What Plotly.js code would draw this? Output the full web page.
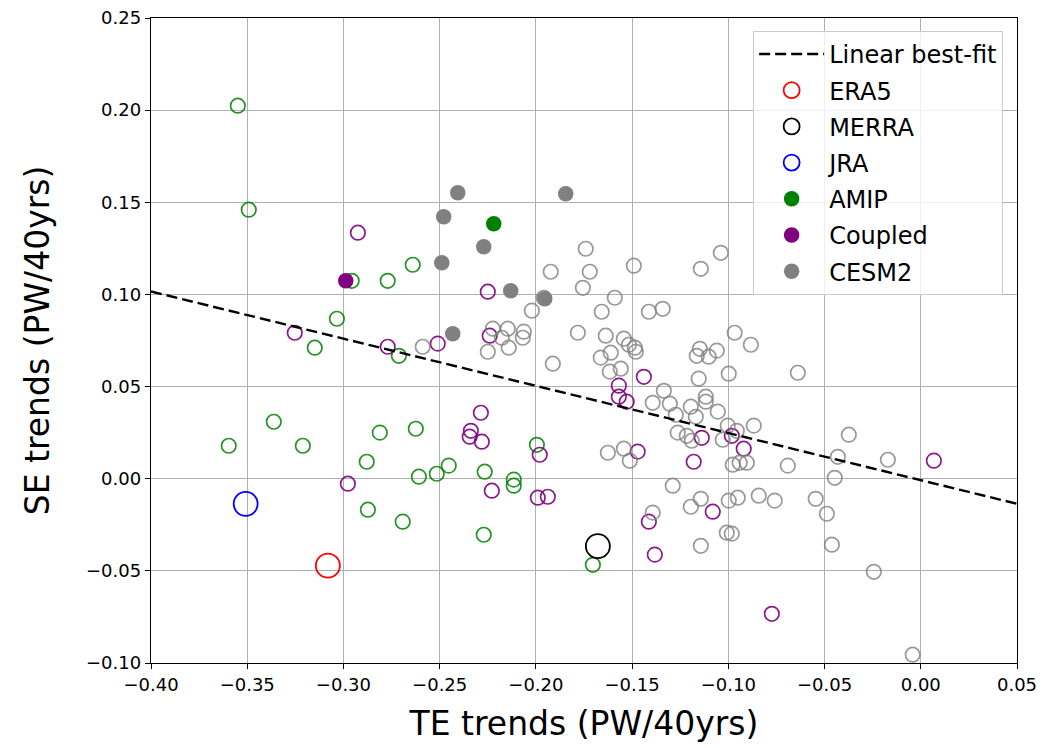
<!DOCTYPE html>
<html>
<head>
<meta charset="utf-8">
<script src="https://cdn.plot.ly/plotly-3.0.1.min.js"></script>
<style>
  html, body { margin: 0; padding: 0; background: #fff; }
  #chart { width: 1045px; height: 748px; }
</style>
</head>
<body>
<div id="chart"></div>
<script>
// Transient-eddy (TE) vs stationary-eddy (SE) energy transport trends, PW per 40 years

// Reanalyses
const era5TE = [-0.3081];   const era5SE = [-0.0472];
const merraTE = [-0.1678];  const merraSE = [-0.0366];
const jraTE = [-0.3508];    const jraSE = [-0.0136];

// AMIP members
const amipTE = [-0.3549, -0.3492, -0.2957, -0.2770, -0.2640, -0.3034, -0.3149, -0.2712,
  -0.3596, -0.3362, -0.3211, -0.2811, -0.2879, -0.2873, -0.2692, -0.2624, -0.2608,
  -0.2515, -0.2453, -0.2266, -0.2271, -0.2115, -0.2115, -0.1995, -0.1704];
const amipSE = [0.2024, 0.1460, 0.1074, 0.1074, 0.1161, 0.0868, 0.0711, 0.0667,
  0.0179, 0.0309, 0.0179, 0.0250, 0.0092, -0.0168, -0.0233, 0.0271, 0.0011,
  0.0027, 0.0071, 0.0038, -0.0304, -0.0005, -0.0038, 0.0184, -0.0467];
const amipMeanTE = [-0.2219];
const amipMeanSE = [0.1384];

// Coupled members
const coupledTE = [-0.2925, -0.3253, -0.2770, -0.2510, -0.2977, -0.2250, -0.2240, -0.2286,
  -0.2338, -0.2344, -0.2281, -0.1980, -0.2229, -0.1990, -0.1938, -0.1439, -0.1569,
  -0.1569, -0.1528, -0.1471, -0.1138, -0.1180, -0.1413, -0.1382, -0.1081, -0.0920,
  -0.0774, 0.0068, -0.0982];
const coupledSE = [0.1335, 0.0792, 0.0716, 0.0733, -0.0027, 0.1015, 0.0776, 0.0358,
  0.0260, 0.0228, 0.0201, 0.0130, -0.0065, -0.0103, -0.0098, 0.0553, 0.0505,
  0.0445, 0.0418, 0.0147, 0.0222, 0.0092, -0.0233, -0.0412, -0.0179, 0.0163,
  -0.0733, 0.0098, 0.0233];
const coupledMeanTE = [-0.2988];
const coupledMeanSE = [0.1074];

// CESM2 members
const cesmTE = [-0.1741, -0.1923, -0.1720, -0.1491, -0.1756, -0.1590, -0.1959, -0.2021,
  -0.1658, -0.1413, -0.1341, -0.1143, -0.1039, -0.1782, -0.1637, -0.1543, -0.1517,
  -0.1486, -0.1481, -0.1611, -0.1663, -0.1912, -0.1616, -0.1559, -0.2224, -0.2146,
  -0.2063, -0.2068, -0.2177, -0.2141, -0.2250, -0.2588, -0.1335, -0.1393, -0.1304,
  -0.1195, -0.1117, -0.1117, -0.1154, -0.0998, -0.1055, -0.1273, -0.1169, -0.1148,
  -0.1102, -0.1060, -0.1164, -0.0967, -0.0883, -0.0639, -0.1263, -0.1216, -0.1190,
  -0.1003, -0.0956, -0.1029, -0.0868, -0.0977, -0.0941, -0.0904, -0.0691, -0.1626,
  -0.1543, -0.1512, -0.1289, -0.1195, -0.1143, -0.1393, -0.1143, -0.1008, -0.0982,
  -0.0998, -0.0951, -0.0842, -0.0759, -0.0374, -0.0171, -0.0431, -0.0447, -0.0546,
  -0.0488, -0.0462, -0.0244, -0.0042];
const cesmSE = [0.1248, 0.1123, 0.1123, 0.1156, 0.1036, 0.0982, 0.0982, 0.0912,
  0.0906, 0.0906, 0.0922, 0.1139, 0.1226, 0.0792, 0.0776, 0.0760, 0.0727,
  0.0711, 0.0689, 0.0684, 0.0657, 0.0624, 0.0581, 0.0597, 0.0814, 0.0814,
  0.0798, 0.0765, 0.0765, 0.0711, 0.0689, 0.0716, 0.0477, 0.0412, 0.0407,
  0.0391, 0.0445, 0.0418, 0.0543, 0.0570, 0.0364, 0.0347, 0.0336, 0.0705,
  0.0662, 0.0695, 0.0667, 0.0792, 0.0727, 0.0575, 0.0250, 0.0233, 0.0206,
  0.0288, 0.0260, 0.0212, 0.0288, 0.0076, 0.0087, 0.0087, 0.0071, 0.0141,
  0.0163, 0.0098, -0.0038, -0.0152, -0.0109, -0.0184, -0.0364, -0.0293, -0.0298,
  -0.0119, -0.0103, -0.0092, -0.0119, 0.0239, 0.0103, 0.0119, 0.0005, -0.0109,
  -0.0190, -0.0358, -0.0505, -0.0955];
const cesmMeanTE = [-0.2406, -0.1845, -0.2479, -0.2271, -0.2489, -0.2131, -0.1954, -0.2432];
const cesmMeanSE = [0.1552, 0.1546, 0.1422, 0.1259, 0.1172, 0.1020, 0.0977, 0.0787];

// Linear best-fit through the ensemble
const fitSlope = -0.256;
const fitIntercept = -0.0008;
const fitTE = [-0.40, 0.05];

const AMIP_C = '#008000', COUPLED_C = '#800080', CESM_C = '#808080';

function openTrace(x, y, color, size, lw, opts) {
  return Object.assign({
    type: 'scatter', mode: 'markers', x: x, y: y, showlegend: false, hoverinfo: 'skip',
    marker: { symbol: 'circle-open', size: size, color: color, line: { width: lw, color: color } }
  }, opts || {});
}
function filledTrace(x, y, color, name, rank) {
  return {
    type: 'scatter', mode: 'markers', x: x, y: y, name: name, legendrank: rank,
    legendgroup: name,
    marker: { symbol: 'circle', size: 15.5, color: color, line: { width: 0 } }
  };
}

const traces = [
  openTrace(amipTE, amipSE, 'rgba(0,128,0,0.85)', 14.5, 1.7),
  openTrace(coupledTE, coupledSE, 'rgba(128,0,128,0.9)', 14.5, 1.7),
  openTrace(cesmTE, cesmSE, 'rgba(128,128,128,0.8)', 14.5, 1.7),
  filledTrace(amipMeanTE, amipMeanSE, AMIP_C, 'AMIP', 5),
  filledTrace(coupledMeanTE, coupledMeanSE, COUPLED_C, 'Coupled', 6),
  filledTrace(cesmMeanTE, cesmMeanSE, CESM_C, 'CESM2', 7),
  {
    type: 'scatter', mode: 'lines', name: 'Linear best-fit', legendrank: 1, legendgroup: 'fit',
    x: fitTE, y: fitTE.map(v => fitSlope * v + fitIntercept),
    line: { color: '#000', width: 2.4, dash: '11px,5px' }, hoverinfo: 'skip'
  },
  openTrace(era5TE, era5SE, '#ff0000', 24, 1.8, { name: 'ERA5', showlegend: true, legendrank: 2, legendgroup: 'ERA5' }),
  openTrace(merraTE, merraSE, '#000000', 24, 1.8, { name: 'MERRA', showlegend: true, legendrank: 3, legendgroup: 'MERRA' }),
  openTrace(jraTE, jraSE, '#0000ff', 24, 1.8, { name: 'JRA', showlegend: true, legendrank: 4, legendgroup: 'JRA' })
];

const axisCommon = {
  showline: true, mirror: true, linecolor: '#000', linewidth: 1.2,
  ticks: 'outside', ticklen: 5, tickwidth: 1, tickcolor: '#000',
  showgrid: true, gridcolor: '#b0b0b0', gridwidth: 1,
  zeroline: false, tickformat: '.2f',
  tickfont: { family: 'DejaVu Sans', size: 18, color: '#000' }
};

const titleFont = { family: 'DejaVu Sans', size: 33, color: '#000' };

const layout = {
  width: 1045, height: 748,
  margin: { l: 151, r: 28, t: 18, b: 85 },
  paper_bgcolor: '#fff', plot_bgcolor: '#fff',
  font: { family: 'DejaVu Sans', color: '#000' },
  xaxis: Object.assign({}, axisCommon, {
    range: [-0.40, 0.05], dtick: 0.05, tick0: 0,
    title: { text: 'TE trends (PW/40yrs)', font: titleFont, standoff: 18 }
  }),
  yaxis: Object.assign({}, axisCommon, {
    range: [-0.10, 0.25], dtick: 0.05, tick0: 0,
    title: { text: 'SE trends (PW/40yrs)', font: titleFont, standoff: 26 }
  }),
  showlegend: true,
  legend: {
    x: 0.984, y: 0.98, xanchor: 'right', yanchor: 'top',
    bgcolor: 'rgba(255,255,255,0.8)', bordercolor: '#cccccc', borderwidth: 1,
    font: { family: 'DejaVu Sans', size: 24, color: '#000' },
    traceorder: 'grouped', tracegroupgap: 2, itemwidth: 65,
    itemsizing: 'trace'
  }
};

Plotly.newPlot('chart', traces, layout, { displayModeBar: false, staticPlot: true });
</script>
</body>
</html>
